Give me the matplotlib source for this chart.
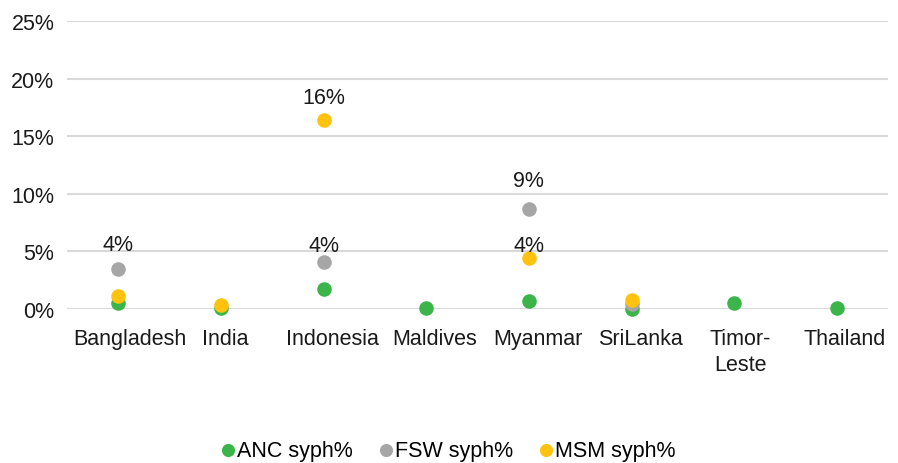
import numpy as np
import matplotlib.pyplot as plt
import matplotlib.transforms as mtrans
from matplotlib.ticker import PercentFormatter

plt.rcParams['font.family'] = ['Liberation Sans', 'DejaVu Sans']

countries = ["Bangladesh", "India", "Indonesia", "Maldives", "Myanmar",
             "SriLanka", "Timor-\nLeste", "Thailand"]
anc = [0.5, 0.1, 1.7, 0.1, 0.7, 0.0, 0.5, 0.1]
fsw = [3.5, np.nan, 4.1, np.nan, 8.7, 0.4, np.nan, np.nan]
msm = [1.1, 0.3, 16.4, np.nan, 4.4, 0.8, np.nan, np.nan]

# which points carry a data label: (series, country index)
labelled = [("fsw", 0), ("fsw", 2), ("msm", 2), ("fsw", 4), ("msm", 4)]
label_gap = [19, 11, 17, 23, 7]  # px from dot centre to text baseline

fig = plt.figure(figsize=(8.98, 4.64), dpi=100)
ax = fig.add_axes([0.0746, 0.332, 0.9144, 0.6206])

x = np.arange(len(countries))
series = {"anc": (anc, "#3bb54a", "ANC syph%"),
          "fsw": (fsw, "#a6a6a6", "FSW syph%"),
          "msm": (msm, "#ffc20e", "MSM syph%")}
for key, (vals, col, lab) in series.items():
    ax.scatter(x, vals, s=110, color=col, label=lab, zorder=3, linewidths=0,
               clip_on=False)

for (key, i), gap in zip(labelled, label_gap):
    v = series[key][0][i]
    ax.annotate(f"{v:.0f}%", (x[i], v), xytext=(0, gap * 0.72),
                textcoords="offset points", ha="center", va="baseline",
                fontsize=15.5, color="#1a1a1a", zorder=4)

ax.set_xlim(-0.5, len(countries) - 0.5)
ax.set_ylim(0, 25)
ax.set_yticks(np.arange(0, 26, 5))
ax.yaxis.set_major_formatter(PercentFormatter(decimals=0))
ax.set_xticks(x)
ax.set_xticklabels(countries, linespacing=1.3)
ax.tick_params(axis="both", length=0, labelsize=15.5, colors="#1a1a1a")
ax.tick_params(axis="x", pad=14)
ax.tick_params(axis="y", pad=9)
ax.grid(axis="y", color="#d9d9d9", linewidth=1.5)
ax.set_axisbelow(True)
for s in ax.spines.values():
    s.set_visible(False)

fig.legend(loc="center", bbox_to_anchor=(0.5, 0.028), ncol=3, frameon=False,
           fontsize=15.5, handlelength=0.5, handletextpad=0.15,
           columnspacing=1.3, markerscale=0.9)

# category labels in the original sit a bit right of the dots
fig.canvas.draw()
for t in ax.get_xticklabels():
    w = t.get_window_extent().width
    t.set_transform(t.get_transform() +
                    mtrans.ScaledTranslation(0.1 * w / fig.dpi, 0, fig.dpi_scale_trans))

fig.savefig("out.png", dpi=100)
